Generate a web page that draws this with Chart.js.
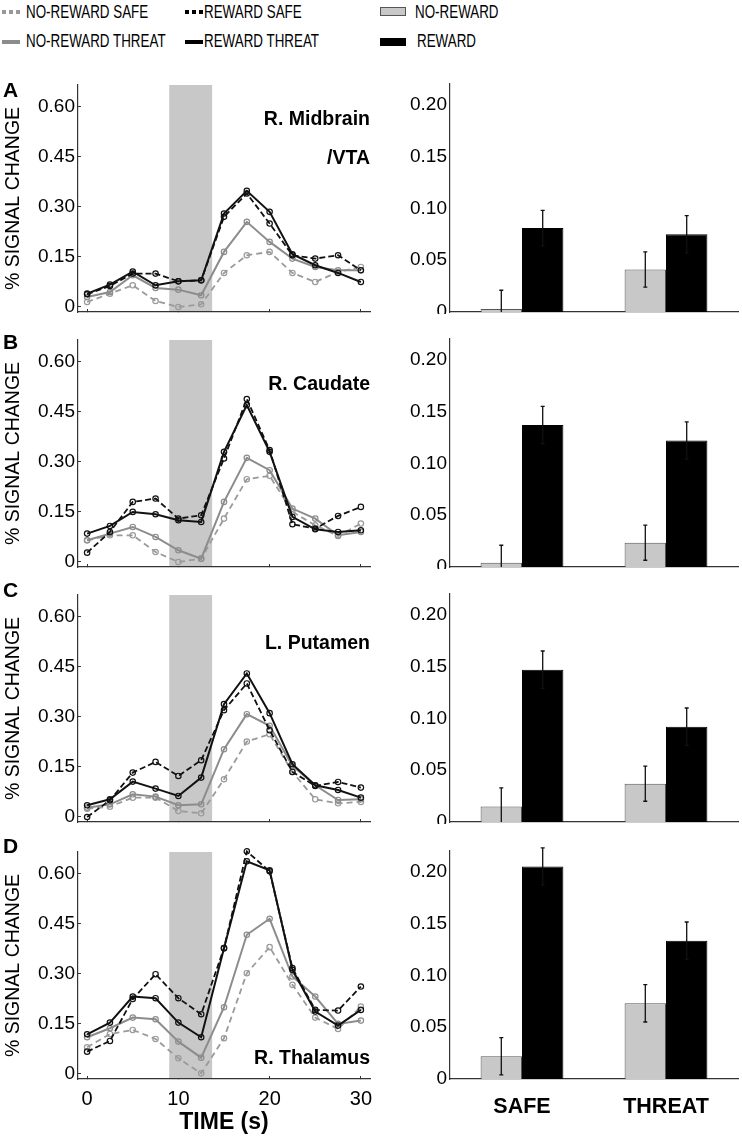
<!doctype html>
<html>
<head>
<meta charset="utf-8">
<title>Signal change by reward and threat</title>
<script src="https://cdn.jsdelivr.net/npm/chart.js"></script>
<style>
  body { margin: 0; background: #fff; }
  #fig { position: relative; width: 742px; height: 1139px; overflow: hidden;
         font-family: "Liberation Sans", Arial, sans-serif; color: #000; }
  #fig canvas { position: absolute; }
  .lg { position: absolute; font-size: 18.6px; line-height: 20px; white-space: nowrap;
        transform: scaleX(0.72); transform-origin: 0 50%; }
  .sw { position: absolute; }
  .letter { position: absolute; left: 3px; font-weight: bold; font-size: 21px; line-height: 24px; }
  .region { position: absolute; right: 372px; text-align: right; font-weight: bold;
            font-size: 19.5px; line-height: 22px; white-space: nowrap; }
</style>
</head>
<body>
<div id="fig">
  <!-- legend -->
  <div class="sw" style="left:2px;top:10px;width:18px;height:4px;background:repeating-linear-gradient(90deg,#999 0 4px,transparent 4px 7px);"></div>
  <div class="lg" style="left:26px;top:2px;">NO-REWARD SAFE</div>
  <div class="sw" style="left:185px;top:10px;width:18px;height:4px;background:repeating-linear-gradient(90deg,#000 0 4px,transparent 4px 7px);"></div>
  <div class="lg" style="left:204px;top:2px;">REWARD SAFE</div>
  <div class="sw" style="left:380px;top:7px;width:24px;height:7px;background:#c8c8c8;border:1px solid #555;"></div>
  <div class="lg" style="left:415px;top:2px;">NO-REWARD</div>

  <div class="sw" style="left:2px;top:40px;width:18px;height:4px;background:#8c8c8c;"></div>
  <div class="lg" style="left:26px;top:31px;">NO-REWARD THREAT</div>
  <div class="sw" style="left:185px;top:40px;width:18px;height:4px;background:#000;"></div>
  <div class="lg" style="left:204px;top:31px;">REWARD THREAT</div>
  <div class="sw" style="left:380px;top:38px;width:26px;height:8px;background:#000;"></div>
  <div class="lg" style="left:417px;top:31px;">REWARD</div>
</div>
<script>
// time course (s) and axes
const timePoints = [0, 2.5, 5, 7.5, 10, 12.5, 15, 17.5, 20, 22.5, 25, 27.5, 30];
const timeTicks = [0, 10, 20, 30];
const signalTicks = [0, 0.15, 0.30, 0.45, 0.60];
const barTicks = [0, 0.05, 0.10, 0.15, 0.20];
const conditions = ["SAFE", "THREAT"];
const cueWindow = [9, 13.7];
const panelLetters = ["A", "B", "C", "D"];
const regionNames = [["R. Midbrain", "/VTA"], ["R. Caudate"], ["L. Putamen"], ["R. Thalamus"]];

// R. Midbrain / VTA
const midbrainRewardThreat   = [0.040, 0.067, 0.106, 0.065, 0.077, 0.080, 0.280, 0.348, 0.285, 0.158, 0.125, 0.102, 0.075];
const midbrainRewardSafe     = [0.038, 0.063, 0.100, 0.100, 0.077, 0.080, 0.270, 0.340, 0.250, 0.155, 0.145, 0.155, 0.110];
const midbrainNoRewardThreat = [0.030, 0.045, 0.095, 0.057, 0.052, 0.035, 0.165, 0.255, 0.195, 0.145, 0.120, 0.110, 0.110];
const midbrainNoRewardSafe   = [0.015, 0.040, 0.065, 0.018, 0.000, 0.008, 0.102, 0.155, 0.165, 0.102, 0.075, 0.105, 0.120];
// R. Caudate
const caudateRewardThreat   = [0.085, 0.108, 0.150, 0.143, 0.125, 0.120, 0.330, 0.470, 0.330, 0.135, 0.098, 0.090, 0.095];
const caudateRewardSafe     = [0.028, 0.090, 0.180, 0.190, 0.130, 0.140, 0.310, 0.488, 0.335, 0.113, 0.100, 0.138, 0.165];
const caudateNoRewardThreat = [0.065, 0.085, 0.105, 0.075, 0.035, 0.010, 0.180, 0.312, 0.275, 0.160, 0.130, 0.080, 0.090];
const caudateNoRewardSafe   = [0.065, 0.080, 0.080, 0.030, 0.000, 0.010, 0.130, 0.248, 0.258, 0.150, 0.110, 0.078, 0.115];
// L. Putamen
const putamenRewardThreat   = [0.035, 0.053, 0.106, 0.085, 0.063, 0.118, 0.338, 0.430, 0.311, 0.158, 0.095, 0.081, 0.058];
const putamenRewardSafe     = [0.000, 0.050, 0.133, 0.165, 0.123, 0.170, 0.320, 0.400, 0.260, 0.135, 0.093, 0.105, 0.088];
const putamenNoRewardThreat = [0.028, 0.038, 0.068, 0.061, 0.035, 0.038, 0.203, 0.308, 0.273, 0.153, 0.095, 0.051, 0.053];
const putamenNoRewardSafe   = [0.025, 0.031, 0.058, 0.058, 0.018, 0.011, 0.113, 0.226, 0.248, 0.135, 0.053, 0.041, 0.045];
// R. Thalamus
const thalamusRewardThreat   = [0.119, 0.154, 0.232, 0.227, 0.154, 0.110, 0.377, 0.637, 0.610, 0.312, 0.187, 0.145, 0.192];
const thalamusRewardSafe     = [0.067, 0.099, 0.225, 0.299, 0.227, 0.179, 0.377, 0.667, 0.607, 0.317, 0.192, 0.190, 0.262];
const thalamusNoRewardThreat = [0.110, 0.137, 0.169, 0.164, 0.097, 0.049, 0.200, 0.417, 0.465, 0.292, 0.232, 0.150, 0.160];
const thalamusNoRewardSafe   = [0.080, 0.120, 0.132, 0.105, 0.047, 0.002, 0.107, 0.302, 0.380, 0.267, 0.169, 0.135, 0.202];

// bar means (SAFE, THREAT) and error bars
const midbrainBarNoReward = [0.003, 0.041];
const midbrainBarReward   = [0.081, 0.075];
const midbrainErrNoReward = [0.018, 0.017];
const midbrainErrReward   = [0.017, 0.018];
const caudateBarNoReward = [0.004, 0.0235];
const caudateBarReward   = [0.137, 0.122];
const caudateErrNoReward = [0.017, 0.017];
const caudateErrReward   = [0.018, 0.018];
const putamenBarNoReward = [0.015, 0.037];
const putamenBarReward   = [0.147, 0.092];
const putamenErrNoReward = [0.018, 0.017];
const putamenErrReward   = [0.018, 0.018];
const thalamusBarNoReward = [0.022, 0.073];
const thalamusBarReward   = [0.205, 0.1335];
const thalamusErrNoReward = [0.018, 0.018];
const thalamusErrReward   = [0.018, 0.018];

const lineSeries = [
    [midbrainRewardThreat, midbrainRewardSafe, midbrainNoRewardThreat, midbrainNoRewardSafe],
    [caudateRewardThreat, caudateRewardSafe, caudateNoRewardThreat, caudateNoRewardSafe],
    [putamenRewardThreat, putamenRewardSafe, putamenNoRewardThreat, putamenNoRewardSafe],
    [thalamusRewardThreat, thalamusRewardSafe, thalamusNoRewardThreat, thalamusNoRewardSafe],
];
const barSeries = [
    [midbrainBarNoReward, midbrainBarReward, midbrainErrNoReward, midbrainErrReward],
    [caudateBarNoReward, caudateBarReward, caudateErrNoReward, caudateErrReward],
    [putamenBarNoReward, putamenBarReward, putamenErrNoReward, putamenErrReward],
    [thalamusBarNoReward, thalamusBarReward, thalamusErrNoReward, thalamusErrReward],
];
const seriesNames = ["REWARD THREAT", "REWARD SAFE", "NO-REWARD THREAT", "NO-REWARD SAFE"];
const lineStyles = [
    { color: "#111", dash: [], width: 2 },
    { color: "#111", dash: [6, 3], width: 1.8 },
    { color: "#8c8c8c", dash: [], width: 2 },
    { color: "#9a9a9a", dash: [6, 4], width: 1.8 },
];

// layout
const rowTops = [85, 340, 595, 852];
const regionTops = [107, 372, 631, 1046];
const letterTops = [78, 330, 578, 834];

Chart.defaults.font.family = '"Liberation Sans", Arial, sans-serif';
Chart.defaults.color = "#000";

const fig = document.getElementById("fig");

// grey stimulus window behind the lines
const shadePlugin = {
    id: "shade",
    beforeDatasetsDraw(chart, args, opts) {
        const { ctx, chartArea, scales } = chart;
        const x0 = scales.x.getPixelForValue(opts.range[0]);
        const x1 = scales.x.getPixelForValue(opts.range[1]);
        ctx.save();
        ctx.fillStyle = opts.color;
        ctx.fillRect(x0, chartArea.top, x1 - x0, chartArea.bottom - chartArea.top - 1);
        ctx.restore();
    },
};

const errorBarPlugin = {
    id: "errorBars",
    afterDatasetsDraw(chart, args, opts) {
        const { ctx, scales } = chart;
        ctx.save();
        ctx.strokeStyle = "#111";
        ctx.lineWidth = 1.3;
        chart.data.datasets.forEach((ds, di) => {
            const meta = chart.getDatasetMeta(di);
            meta.data.forEach((bar, i) => {
                const v = ds.data[i];
                const e = opts.errors[di][i];
                const top = scales.y.getPixelForValue(v + e);
                const lo = v - e;
                const bottom = scales.y.getPixelForValue(Math.max(lo, 0));
                ctx.beginPath();
                ctx.moveTo(bar.x, top);
                ctx.lineTo(bar.x, bottom);
                ctx.moveTo(bar.x - 2, top);
                ctx.lineTo(bar.x + 2, top);
                if (lo > 0) {
                    ctx.moveTo(bar.x - 2, bottom);
                    ctx.lineTo(bar.x + 2, bottom);
                }
                ctx.stroke();
            });
        });
        ctx.restore();
    },
};

function addCanvas(left, top, w, h) {
    const c = document.createElement("canvas");
    c.width = w;
    c.height = h;
    c.style.left = left + "px";
    c.style.top = top + "px";
    c.style.width = w + "px";
    c.style.height = h + "px";
    fig.appendChild(c);
    return c;
}

function noPad(s) {
    s.paddingTop = 0;
    s.paddingBottom = 0;
    s.paddingLeft = 0;
    s.paddingRight = 0;
}

function makeLineChart(i) {
    const last = i === 3;
    const canvas = addCanvas(0, rowTops[i] - 10, 380, last ? 297 : 245);
    const datasets = lineSeries[i].map((vals, k) => ({
        label: seriesNames[k],
        data: timePoints.map((t, j) => ({ x: t, y: vals[j] })),
        borderColor: lineStyles[k].color,
        borderDash: lineStyles[k].dash,
        borderWidth: lineStyles[k].width,
        pointRadius: 2.7,
        pointBorderWidth: 1.2,
        pointBorderColor: lineStyles[k].color,
        pointBackgroundColor: "rgba(0,0,0,0)",
        tension: 0,
        clip: false,
    }));
    new Chart(canvas, {
        type: "line",
        data: { datasets: datasets },
        options: {
            responsive: false,
            animation: false,
            layout: { padding: { left: 0, right: 10, top: 10, bottom: 0 } },
            plugins: {
                legend: { display: false },
                tooltip: { enabled: false },
                shade: { range: cueWindow, color: "#c8c8c8" },
            },
            scales: {
                x: {
                    type: "linear",
                    min: -1,
                    max: 31,
                    afterBuildTicks: (s) => { s.ticks = timeTicks.map((v) => ({ value: v })); },
                    afterFit: (s) => { s.height = last ? 60 : 8; noPad(s); },
                    ticks: { display: last, padding: 11, font: { size: 20 }, callback: (v) => String(v) },
                    grid: { drawOnChartArea: false, tickLength: -3, color: "#333" },
                    border: { color: "#333", width: 1.2 },
                    title: {
                        display: last,
                        text: "TIME (s)",
                        font: { size: 23, weight: "bold" },
                        padding: { top: 0, bottom: 3 },
                    },
                },
                y: {
                    min: -0.015,
                    max: 0.665,
                    afterBuildTicks: (s) => { s.ticks = signalTicks.map((v) => ({ value: v })); },
                    afterFit: (s) => { s.width = 78; noPad(s); },
                    ticks: {
                        padding: 6,
                        font: { size: 19 },
                        callback: (v) => (v === 0 ? "0" : v.toFixed(2)),
                    },
                    grid: { drawOnChartArea: false, tickLength: -3, color: "#333" },
                    border: { color: "#333", width: 1.2 },
                    title: {
                        display: true,
                        text: "% SIGNAL CHANGE",
                        font: { size: 19.5 },
                        padding: { top: 2, bottom: 0 },
                    },
                },
            },
        },
        plugins: [shadePlugin],
    });
}

function makeBarChart(i) {
    const last = i === 3;
    const canvas = addCanvas(380, rowTops[i] - 11, 362, last ? 298 : 240);
    const [noRew, rew, errNoRew, errRew] = barSeries[i];
    new Chart(canvas, {
        type: "bar",
        data: {
            labels: conditions,
            datasets: [
                {
                    label: "NO-REWARD",
                    data: noRew,
                    backgroundColor: "#c8c8c8",
                    borderColor: "#555",
                    borderWidth: 1,
                },
                {
                    label: "REWARD",
                    data: rew,
                    backgroundColor: "#000",
                    borderColor: "#000",
                    borderWidth: 1,
                },
            ],
        },
        options: {
            responsive: false,
            animation: false,
            categoryPercentage: 0.575,
            barPercentage: 1.0,
            layout: { padding: { left: 0, right: 4, top: 10, bottom: 0 } },
            plugins: {
                legend: { display: false },
                tooltip: { enabled: false },
                errorBars: { errors: [errNoRew, errRew] },
            },
            scales: {
                x: {
                    afterFit: (s) => { s.height = last ? 60 : 2; noPad(s); },
                    ticks: { display: last, padding: 15, font: { size: 21.5, weight: "bold" } },
                    grid: { display: false, drawTicks: false },
                    border: { color: "#333", width: 1.2 },
                },
                y: {
                    min: 0,
                    max: 0.22,
                    afterBuildTicks: (s) => { s.ticks = barTicks.map((v) => ({ value: v })); },
                    afterFit: (s) => { s.width = 70; noPad(s); },
                    ticks: {
                        padding: 3,
                        font: { size: 19 },
                        callback: (v) => (v === 0 ? "0" : v.toFixed(2)),
                    },
                    grid: { display: false, drawTicks: false },
                    border: { color: "#333", width: 1.2 },
                },
            },
        },
        plugins: [errorBarPlugin],
    });
}

for (let i = 0; i < 4; i++) {
    makeLineChart(i);
    makeBarChart(i);

    const letter = document.createElement("div");
    letter.className = "letter";
    letter.style.top = letterTops[i] + "px";
    letter.textContent = panelLetters[i];
    fig.appendChild(letter);

    regionNames[i].forEach((line, k) => {
        const r = document.createElement("div");
        r.className = "region";
        r.style.top = regionTops[i] + k * 39 + "px";
        r.textContent = line;
        fig.appendChild(r);
    });
}
</script>
</body>
</html>
